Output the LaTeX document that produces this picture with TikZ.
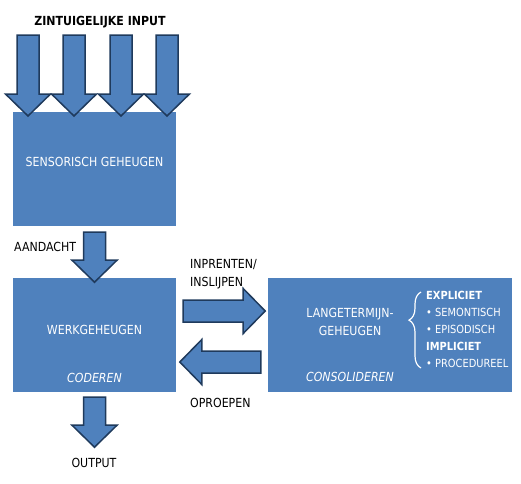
\documentclass[tikz,border=0pt]{standalone}
\usepackage{fontspec}
\setmainfont{DejaVu Sans}[FakeStretch=0.88]
\usetikzlibrary{positioning,decorations.pathreplacing}
\definecolor{boxblue}{HTML}{4F81BD}
\definecolor{arrowedge}{HTML}{1F3A5C}

\tikzset{
  membox/.style={fill=boxblue, minimum width=163pt, minimum height=114pt, inner sep=0pt},
  boxtext/.style={text=white, inner sep=0pt, font=\fontsize{12.5}{18}\selectfont},
  plaintext/.style={text=black, inner sep=0pt, text height=9.2pt, text depth=0pt,
    font=\fontsize{12.5}{14}\selectfont},
  blockline/.style={fill=boxblue, draw=arrowedge, line width=1.5pt, line join=miter},
  pics/blockarrow/.style={code={
    \draw[blockline] (0,-11) -- ({#1-22},-11) -- ({#1-22},-22.5) -- (#1,0)
      -- ({#1-22},22.5) -- ({#1-22},11) -- (0,11) -- cycle;}}
}

\begin{document}
\begin{tikzpicture}[x=1pt, y=-1pt]
    \useasboundingbox (0,0) rectangle (521,483);
    % memory stores
    \node[membox] (sens) at (94.5,169) {};
    \node[membox] (werk) at (94.5,335) {};
    \node[membox, minimum width=244pt] (ltm) at (390,335) {};

    % input from the senses
    \node[plaintext, font=\fontsize{12.5}{14}\selectfont\bfseries] (input) at (100,21) {ZINTUIGELIJKE INPUT};
    \foreach \cx in {28,74,121,167}
        \pic[rotate=-90] at (\cx,35) {blockarrow=81};

    % arrows between the stores
    \pic[rotate=-90] at ([yshift=-6pt]sens.south) {blockarrow=50};
    \pic[rotate=-90] at ([yshift=-5pt]werk.south) {blockarrow=50};
    \pic at ([xshift=7pt,yshift=24pt]werk.east) {blockarrow=82};
    \pic[rotate=180] at ([xshift=-7pt,yshift=-27pt]ltm.west) {blockarrow=81};

    % texts inside the boxes
    \node[boxtext] (senslabel) at ([yshift=7pt]sens.center) {SENSORISCH GEHEUGEN};
    \node[boxtext] (werklabel) at ([yshift=5pt]werk.center) {WERKGEHEUGEN};
    \node[boxtext, font=\fontsize{12.5}{14}\selectfont\itshape] (coderen) at ([yshift=-43pt]werk.center) {CODEREN};
    \node[boxtext, align=center] (ltmlabel) at ([xshift=-40pt,yshift=13pt]ltm.center) {LANGETERMIJN-\\GEHEUGEN};
    \node[boxtext, font=\fontsize{12.5}{14}\selectfont\itshape] (consolideren) at ([xshift=-40pt,yshift=-42pt]ltm.center) {CONSOLIDEREN};
    \node[boxtext, align=left, anchor=west, font=\fontsize{11.2}{17}\selectfont] (kinds) at (426,329)
        {\textbf{EXPLICIET}\\• SEMONTISCH\\• EPISODISCH\\\textbf{IMPLICIET}\\• PROCEDUREEL};
    \draw[white, line width=1.2pt, decorate, decoration={brace, amplitude=12pt, aspect=0.63}]
        (421,368) -- (421,292);

    % labels beside the arrows
    \node[plaintext, anchor=west] (aandacht) at (14,247) {AANDACHT};
    \node[plaintext, anchor=west] (inprenten) at (190,264) {INPRENTEN/};
    \node[plaintext, anchor=west] (inslijpen) at (190,282) {INSLIJPEN};
    \node[plaintext, anchor=west] (oproepen) at (190,403) {OPROEPEN};
    \node[plaintext] (output) at (94,463) {OUTPUT};
\end{tikzpicture}
\end{document}
